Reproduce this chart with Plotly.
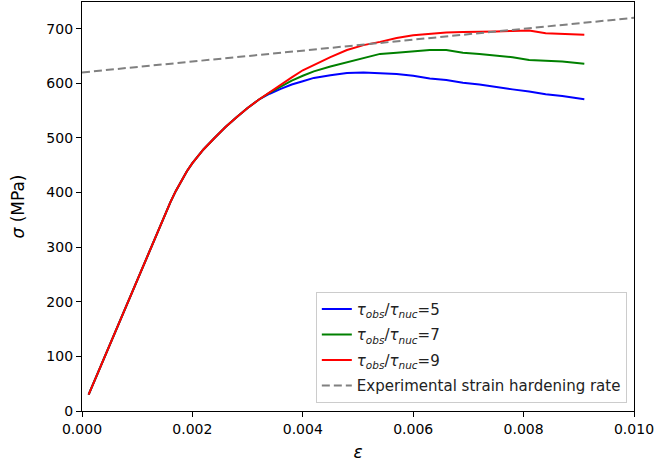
import plotly.graph_objects as go

# Strain points (shared by all three simulations)
strain = [0.00012, 0.0005, 0.0010, 0.0015, 0.0016, 0.0017, 0.0018, 0.0019, 0.0020,
          0.0021, 0.0022, 0.0024, 0.0026, 0.0028, 0.0030, 0.0032,
          0.0034, 0.0036, 0.0038, 0.0040, 0.0042, 0.0045, 0.0048, 0.0051, 0.0054,
          0.0057, 0.0060, 0.0063, 0.0066, 0.0069, 0.0072, 0.0075, 0.0078, 0.0081,
          0.0084, 0.0087, 0.0091]

# Common elastic / early hardening part (MPa)
elastic_part = [30, 121, 241, 359, 382, 403, 422, 439, 454, 467, 479, 500, 520, 538,
                555, 570]

stress_r5 = elastic_part + [581, 590, 598, 604, 610, 615, 619, 620, 619, 617, 614, 609,
                            606, 601, 598, 593, 589, 585, 580, 577, 571]
stress_r7 = elastic_part + [583, 594, 605, 614, 622, 631, 639, 647, 654, 656, 658, 661,
                            661, 656, 654, 651, 648, 643, 642, 640, 636]
stress_r9 = elastic_part + [584, 597, 611, 624, 634, 648, 661, 670, 676, 683, 688, 691,
                            693, 694, 694, 695, 696, 697, 692, 691, 689]

# Experimental strain hardening rate line
exp_strain = [0.0, 0.010]
exp_stress = [620, 720]

series = [
    ("<i>τ</i><sub><i>obs</i></sub>/<i>τ</i><sub><i>nuc</i></sub>=5", stress_r5, "#0000ff"),
    ("<i>τ</i><sub><i>obs</i></sub>/<i>τ</i><sub><i>nuc</i></sub>=7", stress_r7, "#008000"),
    ("<i>τ</i><sub><i>obs</i></sub>/<i>τ</i><sub><i>nuc</i></sub>=9", stress_r9, "#ff0000"),
]

fig = go.Figure()
for i, (name, ys, color) in enumerate(series):
    fig.add_trace(go.Scatter(x=strain, y=ys, mode="lines", name=name,
                             legendgroup=f"g{i}",
                             line=dict(color=color, width=2)))
fig.add_trace(go.Scatter(x=exp_strain, y=exp_stress, mode="lines",
                         name="Experimental strain hardening rate",
                         legendgroup="g3",
                         line=dict(color="#808080", width=2, dash="8px,4px")))

axis_common = dict(showline=True, linecolor="black", linewidth=1.2, mirror=True,
                   ticks="outside", ticklen=5, tickwidth=1, tickcolor="black",
                   showgrid=False, zeroline=False,
                   tickfont=dict(family="DejaVu Sans", size=14, color="black"))

fig.update_layout(
    width=656, height=468,
    margin=dict(l=82, r=22, t=2, b=57),
    paper_bgcolor="white", plot_bgcolor="white",
    font=dict(family="DejaVu Sans", color="black"),
    xaxis=dict(range=[0, 0.010], dtick=0.002, tick0=0, tickformat=".3f",
               title=dict(text="<i>ε</i>", font=dict(size=17), standoff=10),
               **axis_common),
    yaxis=dict(range=[0, 749], dtick=100, tick0=0,
               title=dict(text="<i>σ</i> (MPa)", font=dict(size=17), standoff=17),
               **axis_common),
    legend=dict(x=0.987, y=0.02, xanchor="right", yanchor="bottom",
                bgcolor="rgba(255,255,255,0.8)", bordercolor="#cccccc", borderwidth=1,
                font=dict(family="DejaVu Sans", size=15, color="#222222"),
                tracegroupgap=3),
    showlegend=True,
)

fig.write_html("out.html")
